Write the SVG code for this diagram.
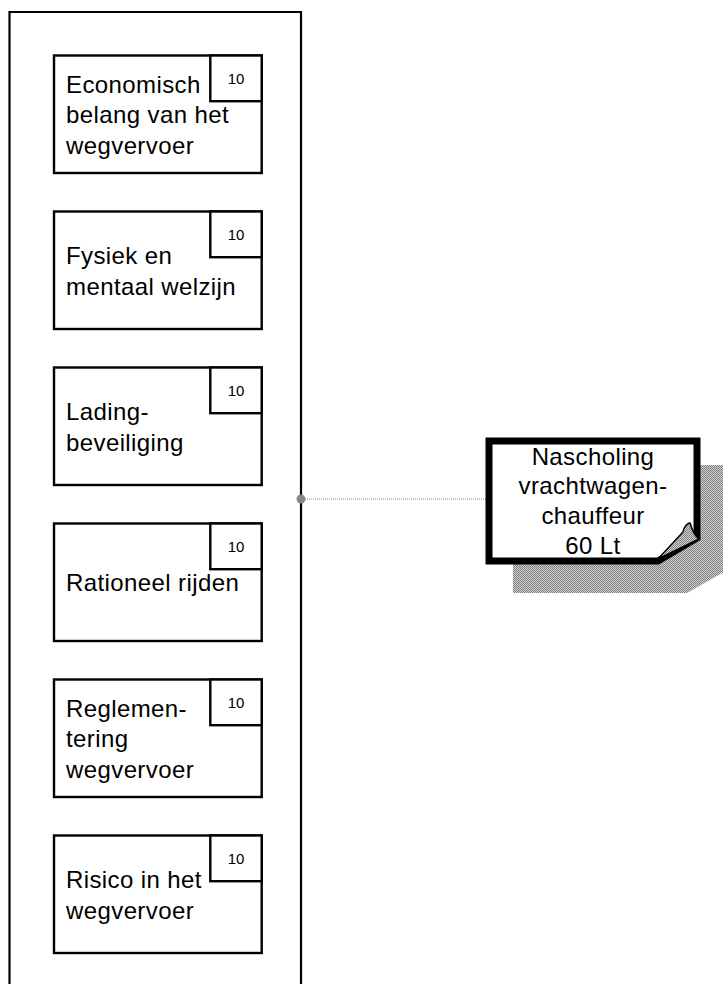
<svg xmlns="http://www.w3.org/2000/svg" width="723" height="984" viewBox="0 0 723 984">
<style>
.box{fill:#fff;stroke:#000;stroke-width:2.4}
.num{fill:#fff;stroke:#000;stroke-width:2.4}
.t{font-family:"Liberation Sans",Arial,sans-serif;font-size:24px;letter-spacing:0.4px;fill:#000}
.n{font-family:"Liberation Sans",Arial,sans-serif;font-size:15px;fill:#000;text-anchor:middle}
.nt{font-family:"Liberation Sans",Arial,sans-serif;font-size:24px;letter-spacing:0.4px;fill:#000;text-anchor:middle}
</style>
<defs>
<pattern id="dither" width="2" height="2" patternUnits="userSpaceOnUse">
<rect width="2" height="2" fill="#d0d0d0"/>
<rect width="1" height="1" fill="#808080"/>
<rect x="1" y="1" width="1" height="1" fill="#808080"/>
</pattern>
</defs>
<rect width="723" height="984" fill="#fff"/>
<g id="container">
<path d="M9.5,990 V12 H301 V990" fill="none" stroke="#000" stroke-width="2.2"/>
</g>
<g id="connectors">
<line x1="301" y1="499" x2="486" y2="499" stroke="#888" stroke-width="1" stroke-dasharray="1 1"/>
<circle cx="301" cy="499" r="4.5" fill="#888"/>
</g>
<g id="node1">
<rect class="box" x="54" y="55.5" width="207.7" height="117.5"/>
<rect class="num" x="210.3" y="55.5" width="51.4" height="45.7"/>
<text class="n" x="236" y="83.5">10</text>
<text class="t" x="66" y="92.75">Economisch</text>
<text class="t" x="66" y="123.25">belang van het</text>
<text class="t" x="66" y="153.75">wegvervoer</text>
</g>
<g id="node2">
<rect class="box" x="54" y="211.5" width="207.7" height="117.5"/>
<rect class="num" x="210.3" y="211.5" width="51.4" height="45.7"/>
<text class="n" x="236" y="239.5">10</text>
<text class="t" x="66" y="264">Fysiek en</text>
<text class="t" x="66" y="294.5">mentaal welzijn</text>
</g>
<g id="node3">
<rect class="box" x="54" y="367.5" width="207.7" height="117.5"/>
<rect class="num" x="210.3" y="367.5" width="51.4" height="45.7"/>
<text class="n" x="236" y="395.5">10</text>
<text class="t" x="66" y="420">Lading-</text>
<text class="t" x="66" y="450.5">beveiliging</text>
</g>
<g id="node4">
<rect class="box" x="54" y="523.5" width="207.7" height="117.5"/>
<rect class="num" x="210.3" y="523.5" width="51.4" height="45.7"/>
<text class="n" x="236" y="551.5">10</text>
<text class="t" x="66" y="591.25">Rationeel rijden</text>
</g>
<g id="node5">
<rect class="box" x="54" y="679.5" width="207.7" height="117.5"/>
<rect class="num" x="210.3" y="679.5" width="51.4" height="45.7"/>
<text class="n" x="236" y="707.5">10</text>
<text class="t" x="66" y="716.75">Reglemen-</text>
<text class="t" x="66" y="747.25">tering</text>
<text class="t" x="66" y="777.75">wegvervoer</text>
</g>
<g id="node6">
<rect class="box" x="54" y="835.5" width="207.7" height="117.5"/>
<rect class="num" x="210.3" y="835.5" width="51.4" height="45.7"/>
<text class="n" x="236" y="863.5">10</text>
<text class="t" x="66" y="888">Risico in het</text>
<text class="t" x="66" y="918.5">wegvervoer</text>
</g>
<g id="note">
<path d="M513,465 H729 V569 L687,593 H513 Z" fill="url(#dither)"/>
<path d="M489,441 H697 V538 L658,561 H489 Z" fill="#fff" stroke="#000" stroke-width="7" stroke-linejoin="miter"/>
<path d="M658,559 L683,532 C684,526 688,523 690,523 C692,530 695,536 699,539 L658,559 Z" fill="url(#dither)" stroke="#000" stroke-width="1.5"/>
<text class="nt" x="593" y="464.5">Nascholing</text>
<text class="nt" x="593" y="494.2">vrachtwagen-</text>
<text class="nt" x="593" y="523.9">chauffeur</text>
<text class="nt" x="593" y="553.6">60 Lt</text>
</g>
</svg>
